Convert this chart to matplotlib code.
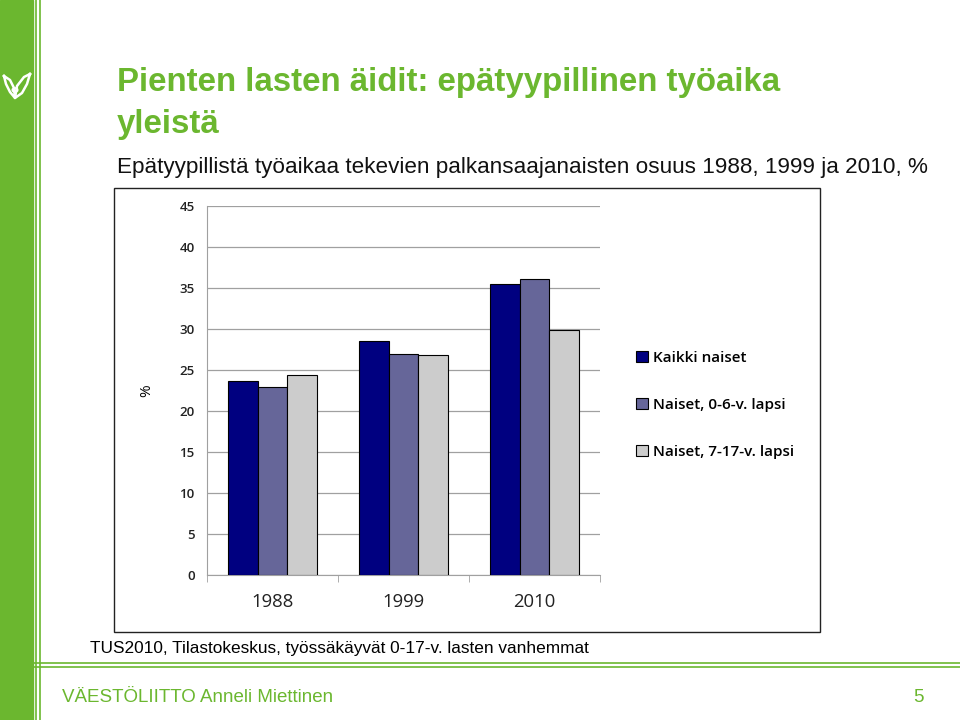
import numpy as np
import matplotlib
matplotlib.use('Agg')
from matplotlib import pyplot as plt
from matplotlib.patches import Rectangle, Circle

years = ['1988', '1999', '2010']
series_names = ['Kaikki naiset', 'Naiset, 0-6-v. lapsi', 'Naiset, 7-17-v. lapsi']
kaikki = [23.6, 28.5, 35.5]
naiset_0_6 = [22.9, 27.0, 36.1]
naiset_7_17 = [24.4, 26.8, 29.9]
colors = ['#000080', '#666699', '#cccccc']

green = '#6bb72f'

fig = plt.figure(figsize=(9.6, 7.2), dpi=100)


def px(x, y):
    # slide pixel -> figure fraction
    return x / 960, 1 - y / 720


# left stripes of the slide
fig.patches.append(Rectangle((0, 0), 33 / 960, 1, transform=fig.transFigure, color=green, zorder=0))
for x in (35.5, 39.5):
    fig.lines.append(plt.Line2D([x / 960, x / 960], [0, 1], transform=fig.transFigure, color=green, lw=1.2))
for y in (663, 666.5):
    fig.lines.append(plt.Line2D([33 / 960, 1], [1 - y / 720, 1 - y / 720], transform=fig.transFigure, color=green, lw=1.2))

# little logo, roughly drawn
left_lobe = [px(4, 76), px(10, 80), px(14, 88), px(15, 98), px(10, 92), px(6, 84), px(4, 76)]
right_lobe = [px(30, 74), px(24, 77), px(17, 86), px(15, 98), px(22, 93), px(27, 84), px(30, 74)]
for pts in (left_lobe, right_lobe):
    xs, ys = zip(*pts)
    fig.lines.append(plt.Line2D(xs, ys, transform=fig.transFigure, color='white', lw=1.8))
fig.patches.append(Circle(px(15, 90), 2.5 / 960, transform=fig.transFigure, fill=False, edgecolor='white', lw=1.5))

# title and subtitle
fig.text(117 / 960, 1 - 83 / 720, 'Pienten lasten äidit: epätyypillinen työaika',
         color=green, fontsize=23.8, fontweight='bold', family='Liberation Sans', va='center')
fig.text(117 / 960, 1 - 125 / 720, 'yleistä',
         color=green, fontsize=23.8, fontweight='bold', family='Liberation Sans', va='center')
fig.text(117 / 960, 1 - 168 / 720, 'Epätyypillistä työaikaa tekevien palkansaajanaisten osuus 1988, 1999 ja 2010, %',
         fontsize=16.2, family='Liberation Sans', va='center', color='#111111')

# chart border
fig.patches.append(Rectangle((114 / 960, 1 - 632 / 720), 706 / 960, 444 / 720, transform=fig.transFigure,
                             fill=False, edgecolor='#222222', lw=1.0, zorder=1))

ax = fig.add_axes([207 / 960, 1 - 575 / 720, 393 / 960, 369 / 720])
x = np.arange(len(years))
w = 0.225
for i, (vals, name) in enumerate(zip([kaikki, naiset_0_6, naiset_7_17], series_names)):
    ax.bar(x + (i - 1) * w, vals, w, color=colors[i], edgecolor='black', linewidth=0.8, label=name, zorder=3)

ax.set_xlim(-0.5, 2.5)
ax.set_ylim(0, 45)
ax.set_yticks(range(0, 50, 5))
ax.yaxis.grid(True, color='#a0a0a0', lw=0.9, zorder=0)
ax.set_xticks(x)
ax.set_xticklabels(years, fontsize=13.3, family='Open Sans', color='#222222')
ax.set_xticks([-0.5, 0.5, 1.5, 2.5], minor=True)
ax.tick_params(axis='x', which='major', length=0, pad=13)
ax.tick_params(axis='x', which='minor', length=5, color='#a0a0a0')
ax.tick_params(axis='y', length=0, pad=9)
for lab in ax.get_yticklabels():
    lab.set_fontsize(9.5)
    lab.set_fontweight('semibold')
    lab.set_family('Open Sans')
    lab.set_color('#222222')
for s in ['top', 'right']:
    ax.spines[s].set_visible(False)
ax.spines['left'].set_color('#a0a0a0')
ax.spines['bottom'].set_color('#a0a0a0')
ax.set_ylabel('%', fontsize=11, family='Open Sans', labelpad=18)

leg = fig.legend(loc='upper left', bbox_to_anchor=(622 / 960, 1 - 337 / 720), frameon=False,
                 prop={'family': 'Open Sans', 'size': 11, 'weight': 'semibold'},
                 handlelength=0.8, handleheight=0.8, handletextpad=0.35, labelspacing=2.15)

fig.text(90 / 960, 1 - 648 / 720, 'TUS2010, Tilastokeskus, työssäkäyvät 0-17-v. lasten vanhemmat',
         fontsize=12.4, family='Liberation Sans', va='center')
fig.text(62 / 960, 1 - 697 / 720, 'VÄESTÖLIITTO Anneli Miettinen', color=green,
         fontsize=13.5, family='Liberation Sans', va='center')
fig.text(913 / 960, 1 - 697 / 720, '5', color=green, fontsize=13.5, family='Liberation Sans', va='center')

fig.savefig('out.png', dpi=100)
